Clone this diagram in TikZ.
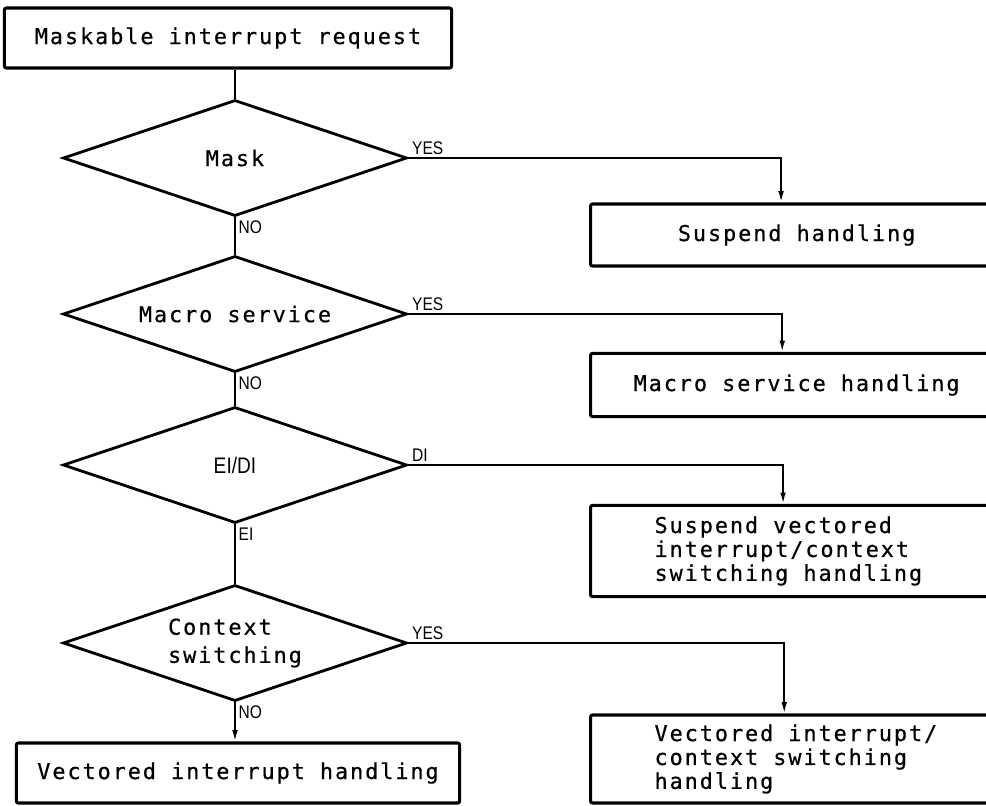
\documentclass[tikz,border=0pt]{standalone}
\usepackage{fontspec}
\newfontfamily\chartfont[LetterSpace=9, FakeBold=0.5]{DejaVu Sans Mono}
\newfontfamily\tagfont[FakeStretch=0.85]{Liberation Sans}
\usetikzlibrary{shapes.geometric,arrows.meta,positioning}

\begin{document}
\begin{tikzpicture}[x=0.025cm, y=-0.025cm,
  proc/.style={draw, line width=2.2pt, rounded corners=1.5pt, inner sep=0pt,
    font=\chartfont\fontsize{15.5pt}{17pt}\selectfont},
  handler/.style={proc, minimum width=10.3cm, anchor=west},
  multi/.style={text width=8cm, align=left, inner xsep=1.6cm},
  decide/.style={draw, diamond, shape aspect=3, line width=2pt, inner sep=0pt,
    minimum width=8.6cm, minimum height=2.9cm,
    font=\chartfont\fontsize{15.5pt}{20pt}\selectfont},
  tag/.style={font=\tagfont\fontsize{13pt}{14pt}\selectfont, inner sep=2pt},
  flow/.style={line width=1.3pt},
  arrowto/.style={flow, -{Latex[length=8pt,width=4pt]}}]
\useasboundingbox (0,0) rectangle (986,805);
\clip (0,0) rectangle (986,805);
% main column
\node [proc, minimum width=11.18cm, minimum height=1.5cm] (request) at (228,38) {Maskable interrupt request};
\node [decide] (mask) at (235,158) {Mask};
\node [decide] (macro) at (235,314) {Macro service};
\node [decide, font=\tagfont\fontsize{16pt}{17pt}\selectfont] (eidi) at (235,465) {EI/DI};
\node [decide, align=left] (context) at (235,643) {Context\\switching};
\node [proc, minimum width=11.08cm, minimum height=1.5cm] (vectored) at (238,773) {Vectored interrupt handling};
% right column, cut by the page edge
\node [handler, minimum height=1.55cm] (suspend) at (589,235) {Suspend handling};
\node [handler, minimum height=1.58cm] (macrohandling) at (589,385) {Macro service handling};
\node [handler, multi, minimum height=2.28cm] (suspendvec) at (589,551)
  {\spaceskip=0pt\relax Suspend vectored\\interrupt/context\\switching handling};
\node [handler, multi, minimum height=2.2cm] (vecctx) at (589,759)
  {\spaceskip=0pt\relax Vectored interrupt/\\context switching\\handling};
% connectors
\draw [flow] (request.south -| mask.north) -- (mask.north);
\draw [flow] (mask.south) node[tag, below right] {NO} -- (macro.north);
\draw [flow] (macro.south) node[tag, below right] {NO} -- (eidi.north);
\draw [flow] (eidi.south) node[tag, below right] {EI} -- (context.north);
\draw [arrowto] (context.south) node[tag, below right] {NO} -- (context.south |- vectored.north);
\draw [arrowto] (mask.east) node[tag, above right] {YES} -| ([xshift=4.8cm]suspend.north west);
\draw [arrowto] (macro.east) node[tag, above right] {YES} -| ([xshift=4.83cm]macrohandling.north west);
\draw [arrowto] (eidi.east) node[tag, above right] {DI} -| ([xshift=4.85cm]suspendvec.north west);
\draw [arrowto] (context.east) node[tag, above right] {YES} -| ([xshift=4.88cm]vecctx.north west);
\end{tikzpicture}
\end{document}
